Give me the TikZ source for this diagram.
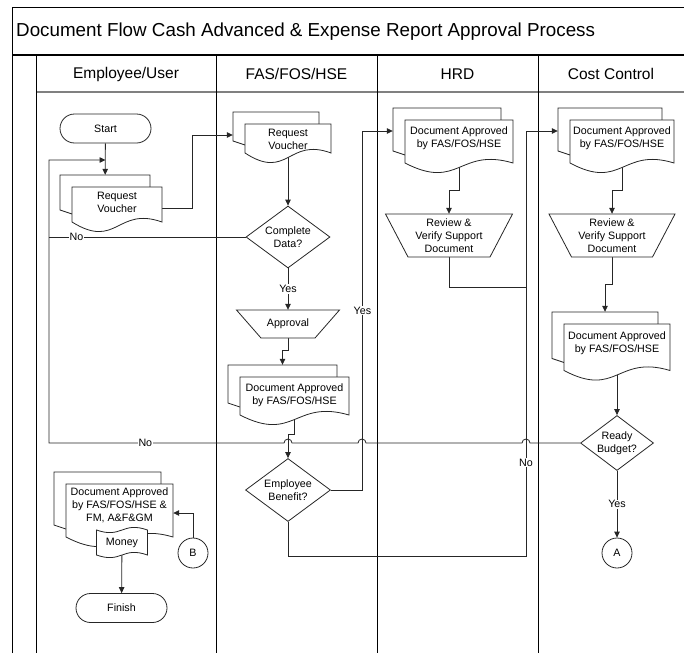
\documentclass[tikz,border=0pt]{standalone}
\usepackage{fontspec}
\setmainfont{Liberation Sans}
\usetikzlibrary{shapes.geometric,arrows.meta,backgrounds}

\newcommand{\flowfont}{\fontsize{10.7}{13.2}\selectfont}

\tikzset{
    sheet/.style={draw=black!85, fill=white, line width=0.8pt},
    doctext/.style={inner sep=0pt, align=center, font=\flowfont},
    term/.style={draw=black!85, fill=white, line width=0.8pt, rounded corners=14.5pt, minimum width=91, minimum height=29, font=\flowfont},
    decision/.style={diamond, aspect=1.35, draw=black!85, fill=white, line width=0.8pt, inner sep=0pt, align=center, font=\flowfont},
    offpage/.style={circle, minimum size=30, draw=black!85, fill=white, line width=0.8pt, inner sep=0pt, font=\flowfont},
    link/.style={draw=black!85, line width=0.8pt},
    flow/.style={link, -{Triangle[length=6pt,width=5.5pt]}},
    lbl/.style={fill=white, inner sep=1pt, font=\flowfont},
    lane/.style={draw=black, line width=1pt},
    lanehead/.style={font=\fontsize{15.5}{18}\selectfont},
}

\newcommand{\multidoc}[6]{%
    \begin{scope}[shift={(#2)}]
        \draw[sheet] ({-#3/2},{#5-8}) -- ({-#3/2-12},{#5-12}) -- ({-#3/2-12},{-#4-12}) -- ({#3/2-12},{-#4-12}) -- ({#3/2-12},{-#4});
        \draw[sheet] ({-#3/2},{#5}) -- ({-#3/2},{-#4}) -- ({#3/2},{-#4}) -- ({#3/2},{#5}) .. controls (0,{#5-16}) and (0,{#5+28}) .. ({-#3/2},{#5}) -- cycle;
        \node[doctext, minimum width=#3, minimum height={2*#4}] (#1) at (0,0) {#6};
        \node[inner sep=0pt, minimum width=#3, minimum height=46] (#1b) at (-12,{11-#4}) {};
    \end{scope}}

\newcommand{\manualop}[6]{%
    \begin{scope}[shift={(#2)}]
        \draw[sheet] ({-#3/2},{-#5/2}) -- ({#3/2},{-#5/2}) -- ({#4/2},{#5/2}) -- ({-#4/2},{#5/2}) -- cycle;
        \node[doctext, minimum width=#4, minimum height=#5] (#1) at (0,0) {#6};
    \end{scope}}

\begin{document}
\begin{tikzpicture}[x=1pt, y=-1pt]
    \useasboundingbox (0,0) rectangle (684,653);

    \node[anchor=west, inner sep=0pt, font=\fontsize{18.8}{22}\selectfont] (title) at (16,32) {Document Flow Cash Advanced \& Expense Report Approval Process};
    \node[lanehead] (hdemp) at (126,74) {Employee/User};
    \node[lanehead] (hdfas) at (296.5,74) {FAS/FOS/HSE};
    \node[lanehead] (hdhrd) at (457.5,74) {HRD};
    \node[lanehead] (hdcost) at (611,74) {Cost Control};

    \node[term] (start) at (105.5,128.5) {Start};
    \multidoc{emprv}{117,202}{90}{15}{20}{Request\\Voucher}
    \multidoc{fasrv}{288,139}{86}{15}{14}{Request\\Voucher}
    \node[decision, minimum width=84, minimum height=62] (cd) at (288,237) {Complete\\Data?};
    \manualop{appr}{288,324}{103}{54}{28}{Approval}
    \multidoc{fasdoc}{294.5,395.5}{109}{18.5}{19.5}{Document Approved\\by FAS/FOS/HSE}
    \node[decision, minimum width=85, minimum height=63] (eb) at (288,490) {Employee\\Benefit?};
    \multidoc{hrddoc}{459,138}{108}{18}{25}{Document Approved\\by FAS/FOS/HSE}
    \manualop{hrdrev}{449,235.5}{127}{82}{43}{Review \&\\Verify Support\\Document}
    \multidoc{costdoc}{622,138}{104}{18}{25}{Document Approved\\by FAS/FOS/HSE}
    \manualop{costrev}{612,235.5}{126}{81}{43}{Review \&\\Verify Support\\Document}
    \multidoc{costdoc2}{617,343.5}{106}{19.5}{27}{Document Approved\\by FAS/FOS/HSE}
    \node[decision, minimum width=73, minimum height=55] (rb) at (617,443) {Ready\\Budget?};
    \node[offpage] (conA) at (617,553) {A};
    \multidoc{findoc}{119.5,505}{107}{21}{32}{Document Approved\\by FAS/FOS/HSE \&\\FM, A\&F\&GM}
    \draw[sheet] (96.5,530) .. controls (122,539) and (122,521) .. (147.5,530) -- (147.5,555) .. controls (122,546) and (122,564) .. (96.5,555) -- cycle;
    \node[doctext, minimum width=51, minimum height=25] (money) at (122,542.5) {Money};
    \node[offpage] (conB) at (193,553) {B};
    \node[term] (finish) at (121.5,608) {Finish};

    \coordinate (loopin) at (105.5,160);
    \coordinate (nojoin) at (49,237);
    \coordinate (hrdjoin) at (526,287);

    \begin{scope}[on background layer]
        \draw[lane] (12,653) -- (12,7) -- (684,7);
        \draw[lane, line width=1.6pt] (12,55) -- (684,55);
        \draw[lane, draw=gray, line width=1.4pt] (36,92) -- (684,92);
        \foreach \x in {36,216,377,538}
            \draw[lane] (\x,55) -- (\x,653);

        \draw[flow] (start) -- (emprvb);
        \draw[flow] ([yshift=-6pt]emprv.east) -- ++(30,0) |- (fasrvb.west);
        \draw[flow] (fasrv) -- (cd);
        \draw[link] (cd) -- node[lbl, pos=0.86] {No} (nojoin);
        \draw[flow] (cd) -- node[lbl] {Yes} (appr);
        \draw[flow] (appr) -- (appr |- 0,350) -| (fasdocb);
        \draw[flow] (fasdoc) |- (eb |- 0,434) -- (eb);
        \draw[flow] (eb.east) -- ++(31.5,0) |- node[lbl, pos=0.25] {Yes} (hrddocb.west);
        \draw[flow] (eb.south) -- ++(0,34) -| node[lbl, pos=0.61] {No} (costdocb.west -| hrdjoin) -- (costdocb.west);
        \draw[flow] (hrddoc) |- (hrdrev |- 0,190) -- (hrdrev);
        \draw[link] (hrdrev) |- (hrdjoin);
        \draw[flow] (costdoc) |- (costrev |- 0,190) -- (costrev);
        \draw[flow] (costrev) |- (costdoc2b |- 0,284) -- (costdoc2b);
        \draw[flow] (costdoc2) -- (rb);
        \draw[flow] (rb.west) -- (530,443) arc[start angle=0, end angle=-180, radius=4] -- (366,443) arc[start angle=0, end angle=-180, radius=4] -- (292,443) arc[start angle=0, end angle=-180, radius=4] -- node[lbl, pos=0.59] {No} (49,443) |- (loopin);
        \draw[flow] (rb) -- node[lbl] {Yes} (conA);
        \draw[flow] (conB) |- ([yshift=-8pt]findoc.east);
        \draw[flow] (money) -- (finish);
    \end{scope}
\end{tikzpicture}
\end{document}
